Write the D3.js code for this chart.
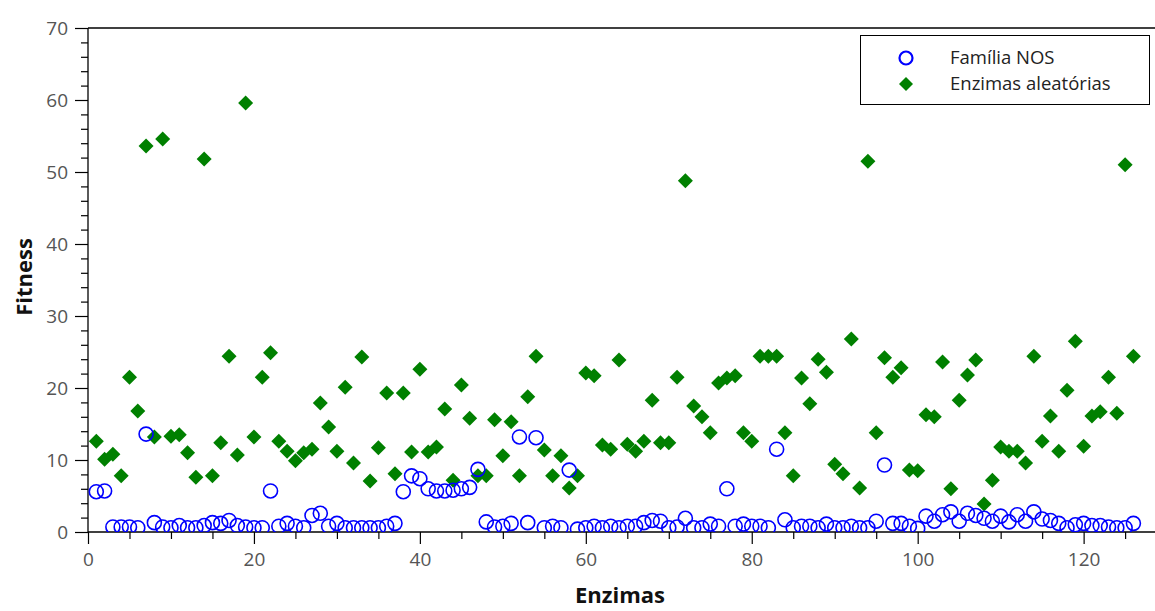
<!DOCTYPE html>
<html>
<head>
<meta charset="utf-8">
<script src="https://cdn.jsdelivr.net/npm/d3@7"></script>
<style>
  html, body { margin: 0; padding: 0; background: #fff; }
  svg { display: block; }
</style>
</head>
<body>
<svg id="chart" width="1155" height="611"></svg>
<script>
// ---- Data ----
const enzymeIndex = d3.range(1, 127);
const nosFamily = [
  5.6, 5.7, 0.7, 0.7, 0.7, 0.6, 13.6, 1.3, 0.7, 0.6,
  0.9, 0.6, 0.6, 0.9, 1.3, 1.2, 1.6, 0.9, 0.7, 0.6,
  0.6, 5.7, 0.8, 1.2, 0.8, 0.6, 2.3, 2.6, 0.8, 1.2,
  0.6, 0.6, 0.6, 0.6, 0.6, 0.8, 1.2, 5.6, 7.8, 7.4,
  6.0, 5.7, 5.7, 5.8, 6.0, 6.2, 8.7, 1.4, 0.7, 0.8,
  1.2, 13.2, 1.3, 13.1, 0.6, 0.8, 0.6, 8.6, 0.4, 0.6,
  0.8, 0.6, 0.8, 0.6, 0.8, 0.8, 1.3, 1.6, 1.5, 0.6,
  0.7, 1.9, 0.6, 0.6, 1.1, 0.8, 6.0, 0.8, 1.1, 0.8,
  0.8, 0.6, 11.5, 1.7, 0.6, 0.8, 0.8, 0.6, 1.1, 0.6,
  0.6, 0.8, 0.6, 0.6, 1.5, 9.3, 1.2, 1.2, 0.8, 0.5,
  2.2, 1.5, 2.4, 2.8, 1.5, 2.6, 2.3, 1.9, 1.5, 2.2,
  1.4, 2.4, 1.5, 2.8, 1.8, 1.6, 1.2, 0.6, 1.0, 1.2,
  0.9, 0.9, 0.7, 0.6, 0.6, 1.2
];
const randomEnzymes = [
  12.6, 10.1, 10.8, 7.8, 21.5, 16.8, 53.6, 13.2, 54.6, 13.3,
  13.5, 11.0, 7.6, 51.8, 7.8, 12.4, 24.4, 10.7, 59.6, 13.2,
  21.5, 24.9, 12.6, 11.2, 9.9, 11.0, 11.5, 17.9, 14.6, 11.2,
  20.1, 9.6, 24.3, 7.1, 11.7, 19.3, 8.1, 19.3, 11.1, 22.6,
  11.1, 11.8, 17.1, 7.2, 20.4, 15.8, 7.8, 7.8, 15.6, 10.6,
  15.3, 7.8, 18.8, 24.4, 11.4, 7.8, 10.6, 6.1, 7.8, 22.1,
  21.7, 12.1, 11.5, 23.9, 12.2, 11.2, 12.6, 18.3, 12.4, 12.4,
  21.5, 48.8, 17.5, 16.0, 13.8, 20.7, 21.4, 21.7, 13.8, 12.6,
  24.4, 24.4, 24.4, 13.8, 7.8, 21.4, 17.8, 24.0, 22.2, 9.4,
  8.1, 26.8, 6.1, 51.5, 13.8, 24.2, 21.5, 22.8, 8.6, 8.5,
  16.3, 16.0, 23.6, 6.0, 18.3, 21.8, 23.9, 3.9, 7.2, 11.8,
  11.2, 11.2, 9.6, 24.4, 12.6, 16.1, 11.2, 19.7, 26.5, 11.9,
  16.1, 16.7, 21.5, 16.5, 51.0, 24.4
];
const xMajorTicks = [0, 20, 40, 60, 80, 100, 120];
const yMajorTicks = [0, 10, 20, 30, 40, 50, 60, 70];
const seriesNames = ["Família NOS", "Enzimas aleatórias"];

// ---- Layout ----
const svg = d3.select("#chart");
const mLeft = 88, mRight = 1150, mTop = 28, mBottom = 532;
const x = d3.scaleLinear().domain([0, 128]).range([mLeft, mRight]);
const y = d3.scaleLinear().domain([0, 70]).range([mBottom, mTop]);
const font = "'Open Sans', 'Noto Sans', sans-serif";
const blue = "#0000ff", green = "#008000";

svg.append("defs").append("clipPath").attr("id", "plotclip")
  .append("rect").attr("x", mLeft).attr("y", mTop - 10)
  .attr("width", 1155 - mLeft).attr("height", mBottom - mTop + 10);

// top frame line
svg.append("line").attr("x1", mLeft).attr("x2", 1155)
  .attr("y1", mTop).attr("y2", mTop)
  .attr("stroke", "#000").attr("stroke-width", 1.3);

// X axis
const xMinor = d3.range(0, 128, 5).filter(v => v % 20 !== 0);
const gx = svg.append("g").attr("transform", `translate(0,${mBottom})`);
gx.append("g").call(d3.axisBottom(x).tickValues(xMinor).tickSize(7).tickFormat(""))
  .call(g => g.select(".domain").remove());
gx.append("g").call(d3.axisBottom(x).tickValues(xMajorTicks).tickSize(12).tickPadding(9).tickFormat(d3.format("d")))
  .call(g => g.select(".domain").remove());
gx.append("line").attr("x1", mLeft).attr("x2", 1155).attr("y1", 0).attr("y2", 0)
  .attr("stroke", "#000").attr("stroke-width", 1.3);

// Y axis
const yMinor = d3.range(0, 71, 2).filter(v => v % 10 !== 0);
const gy = svg.append("g").attr("transform", `translate(${mLeft},0)`);
gy.append("g").call(d3.axisLeft(y).tickValues(yMinor).tickSize(7).tickFormat(""))
  .call(g => g.select(".domain").remove());
gy.append("g").call(d3.axisLeft(y).tickValues(yMajorTicks).tickSize(13).tickPadding(7).tickFormat(d3.format("d")))
  .call(g => g.select(".domain").remove());
gy.append("line").attr("x1", 0).attr("x2", 0).attr("y1", mTop).attr("y2", mBottom)
  .attr("stroke", "#000").attr("stroke-width", 1.3);

svg.selectAll(".tick line").attr("stroke", "#000").attr("stroke-width", 1.2);
svg.selectAll(".tick text").attr("fill", "#555").style("font-family", font).style("font-size", "19px");

// Axis titles
svg.append("text").attr("x", 620).attr("y", 603)
  .attr("text-anchor", "middle").style("font-family", font)
  .style("font-size", "22px").style("font-weight", "bold").attr("fill", "#111")
  .text("Enzimas");
svg.append("text").attr("transform", `translate(32,${(mTop + mBottom) / 2 - 3}) rotate(-90)`)
  .attr("text-anchor", "middle").style("font-family", font)
  .style("font-size", "22px").style("font-weight", "bold").attr("fill", "#111")
  .text("Fitness");

// Marks
const plot = svg.append("g").attr("clip-path", "url(#plotclip)");
const diamond = "M0,-7.5L7.5,0L0,7.5L-7.5,0Z";
plot.selectAll("path.rnd").data(enzymeIndex.map((e, i) => [e, randomEnzymes[i]]))
  .join("path").attr("class", "rnd")
  .attr("transform", d => `translate(${x(d[0])},${y(d[1])})`)
  .attr("d", diamond).attr("fill", green);
plot.selectAll("circle.nos").data(enzymeIndex.map((e, i) => [e, nosFamily[i]]))
  .join("circle").attr("class", "nos")
  .attr("cx", d => x(d[0])).attr("cy", d => y(d[1])).attr("r", 7)
  .attr("fill", "none").attr("stroke", blue).attr("stroke-width", 1.6);

// Legend
const lg = svg.append("g");
lg.append("rect").attr("x", 860.5).attr("y", 35.5).attr("width", 289).attr("height", 69)
  .attr("fill", "#fff").attr("stroke", "#000").attr("stroke-width", 1);
lg.append("circle").attr("cx", 906).attr("cy", 58).attr("r", 6.5)
  .attr("fill", "none").attr("stroke", blue).attr("stroke-width", 2.2);
lg.append("path").attr("d", "M0,-7L7,0L0,7L-7,0Z").attr("transform", "translate(906,84)").attr("fill", green);
seriesNames.forEach((n, i) => {
  lg.append("text").attr("x", 950).attr("y", 58 + i * 26).attr("dy", "0.35em")
    .style("font-family", font).style("font-size", "18.5px").attr("fill", "#222").text(n);
});
</script>
</body>
</html>
